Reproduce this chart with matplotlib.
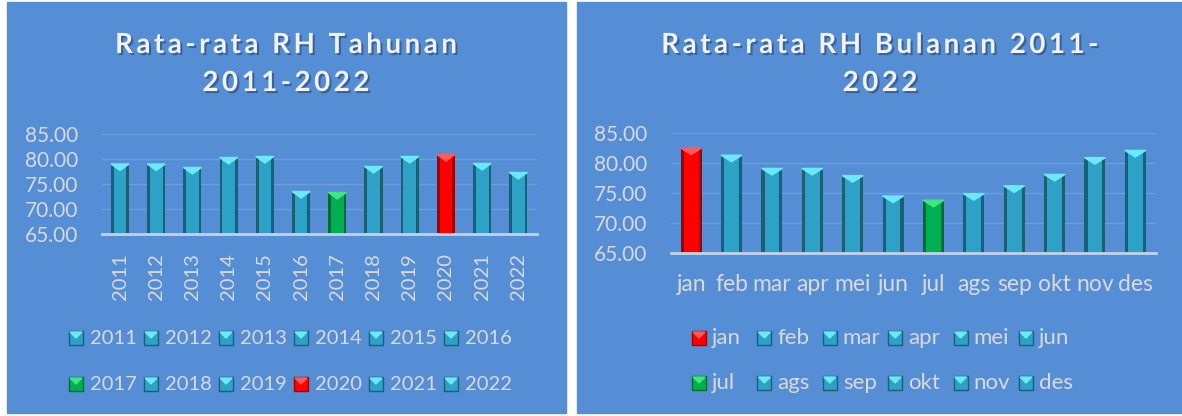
import matplotlib.pyplot as plt
import matplotlib.patheffects as pe
from matplotlib.patches import Rectangle, Polygon
import numpy as np

# data
years = ['2011', '2012', '2013', '2014', '2015', '2016',
         '2017', '2018', '2019', '2020', '2021', '2022']
rh_year = [79.0, 79.0, 78.3, 80.3, 80.5, 73.5, 73.3, 78.5, 80.5, 80.9, 79.1, 77.3]

months = ['jan', 'feb', 'mar', 'apr', 'mei', 'jun',
          'jul', 'ags', 'sep', 'okt', 'nov', 'des']
rh_month = [82.5, 81.3, 79.1, 79.1, 77.9, 74.5, 73.8, 74.9, 76.2, 78.1, 80.9, 82.1]

W, H = 1182, 416
BG = '#558ED5'
TXT = '#D9D9D9'
# body, edge, top triangle
TEAL = ('#2EA2C6', '#1A5F74', '#6BE9F8')
RED = ('#FF0000', '#A00000', '#FF5A5A')
GREEN = ('#00B050', '#006B30', '#40E585')

plt.rcParams['font.family'] = ['Lato', 'DejaVu Sans']


def px(x, y):
    return x / W, 1 - y / H


def pick(vals):
    lo, hi = np.argmin(vals), np.argmax(vals)
    return [RED if i == hi else GREEN if i == lo else TEAL for i in range(len(vals))]


def draw_bars(ax, vals, colors, width, tri_h):
    x = np.arange(len(vals))
    for xi, v, c in zip(x, vals, colors):
        ax.bar(xi, v - 65, bottom=65, width=width, color=c[1], zorder=3)
        ax.bar(xi, v - 65, bottom=65, width=width * 0.7, color=c[0], zorder=3)
        ax.add_patch(Polygon([(xi - width / 2, v), (xi + width / 2, v), (xi, v - tri_h)],
                             closed=True, color=c[2], zorder=4))


def style_axes(ax, labels, rot, xpad, xsize):
    ax.set_facecolor('none')
    ax.set_ylim(65, 85)
    ax.set_xlim(-0.5, 11.5)
    ax.set_yticks([65, 70, 75, 80, 85])
    ax.set_yticklabels(['%.2f' % t for t in [65, 70, 75, 80, 85]])
    ax.set_xticks(range(12))
    ax.set_xticklabels(labels, rotation=rot)
    ax.tick_params(axis='y', length=0, pad=17, labelsize=15, labelcolor=TXT)
    ax.tick_params(axis='x', length=0, pad=xpad, labelsize=xsize, labelcolor=TXT)
    ax.grid(axis='y', color='#6C9EE0', lw=1, zorder=0)
    for s in ['top', 'right', 'left']:
        ax.spines[s].set_visible(False)
    ax.spines['bottom'].set_color('#C5D2E6')
    ax.spines['bottom'].set_linewidth(2)
    ax.spines['bottom'].set_zorder(5)


def draw_legend(fig, labels, colors, x0, dx, ys, tpad, size):
    for i, (lab, c) in enumerate(zip(labels, colors)):
        xm = x0 + (i % 6) * dx
        yc = ys[i // 6]
        l, b = px(xm, yc + 7)
        fig.patches.append(Rectangle((l, b), 14 / W, 14 / H, transform=fig.transFigure,
                                     facecolor=c[0], edgecolor=c[1], lw=1))
        fig.patches.append(Polygon([px(xm + 1, yc - 6), px(xm + 13, yc - 6), px(xm + 7, yc)],
                                   closed=True, transform=fig.transFigure, color=c[2]))
        fig.text(*px(xm + tpad, yc), lab, color=TXT, fontsize=size, va='center', ha='left')


def title(fig, lines, xc, ys):
    for t, y in zip(lines, ys):
        spaced = '\u200a\u200a'.join(t)
        fig.text(*px(xc, y), spaced, ha='center', va='baseline', fontsize=20,
                 fontweight='bold', color='#F2F2F2',
                 path_effects=[pe.SimplePatchShadow(offset=(1.5, -1.5), shadow_rgbFace='#203860',
                                                    alpha=0.5), pe.Normal()])


fig = plt.figure(figsize=(W / 100, H / 100), dpi=100)
fig.patches.append(Rectangle(px(7, 413), 559 / W, 411 / H, transform=fig.transFigure,
                             color=BG, zorder=-2))
fig.patches.append(Rectangle(px(577, 413), 605 / W, 411 / H, transform=fig.transFigure,
                             color=BG, zorder=-2))

# yearly
ax1 = fig.add_axes([101.9 / W, 1 - 234 / H, 434.6 / W, 100 / H])
c1 = pick(rh_year)
draw_bars(ax1, rh_year, c1, 0.5, 1.3)
style_axes(ax1, years, 90, 14, 14.5)
title(fig, ['Rata-rata RH Tahunan', '2011-2022'], 286, [53, 91])
draw_legend(fig, years, c1, 69, 75, [338, 384], 21, 14.5)

# monthly
ax2 = fig.add_axes([671 / W, 1 - 253 / H, 484.5 / W, 120 / H])
c2 = pick(rh_month)
draw_bars(ax2, rh_month, c2, 0.52, 1.1)
style_axes(ax2, months, 0, 15, 16.5)
title(fig, ['Rata-rata RH Bulanan 2011-', '2022'], 880, [53, 91])
draw_legend(fig, months, c2, 692, 65.4, [338, 383], 20, 16)

fig.savefig('out.png', dpi=100)
